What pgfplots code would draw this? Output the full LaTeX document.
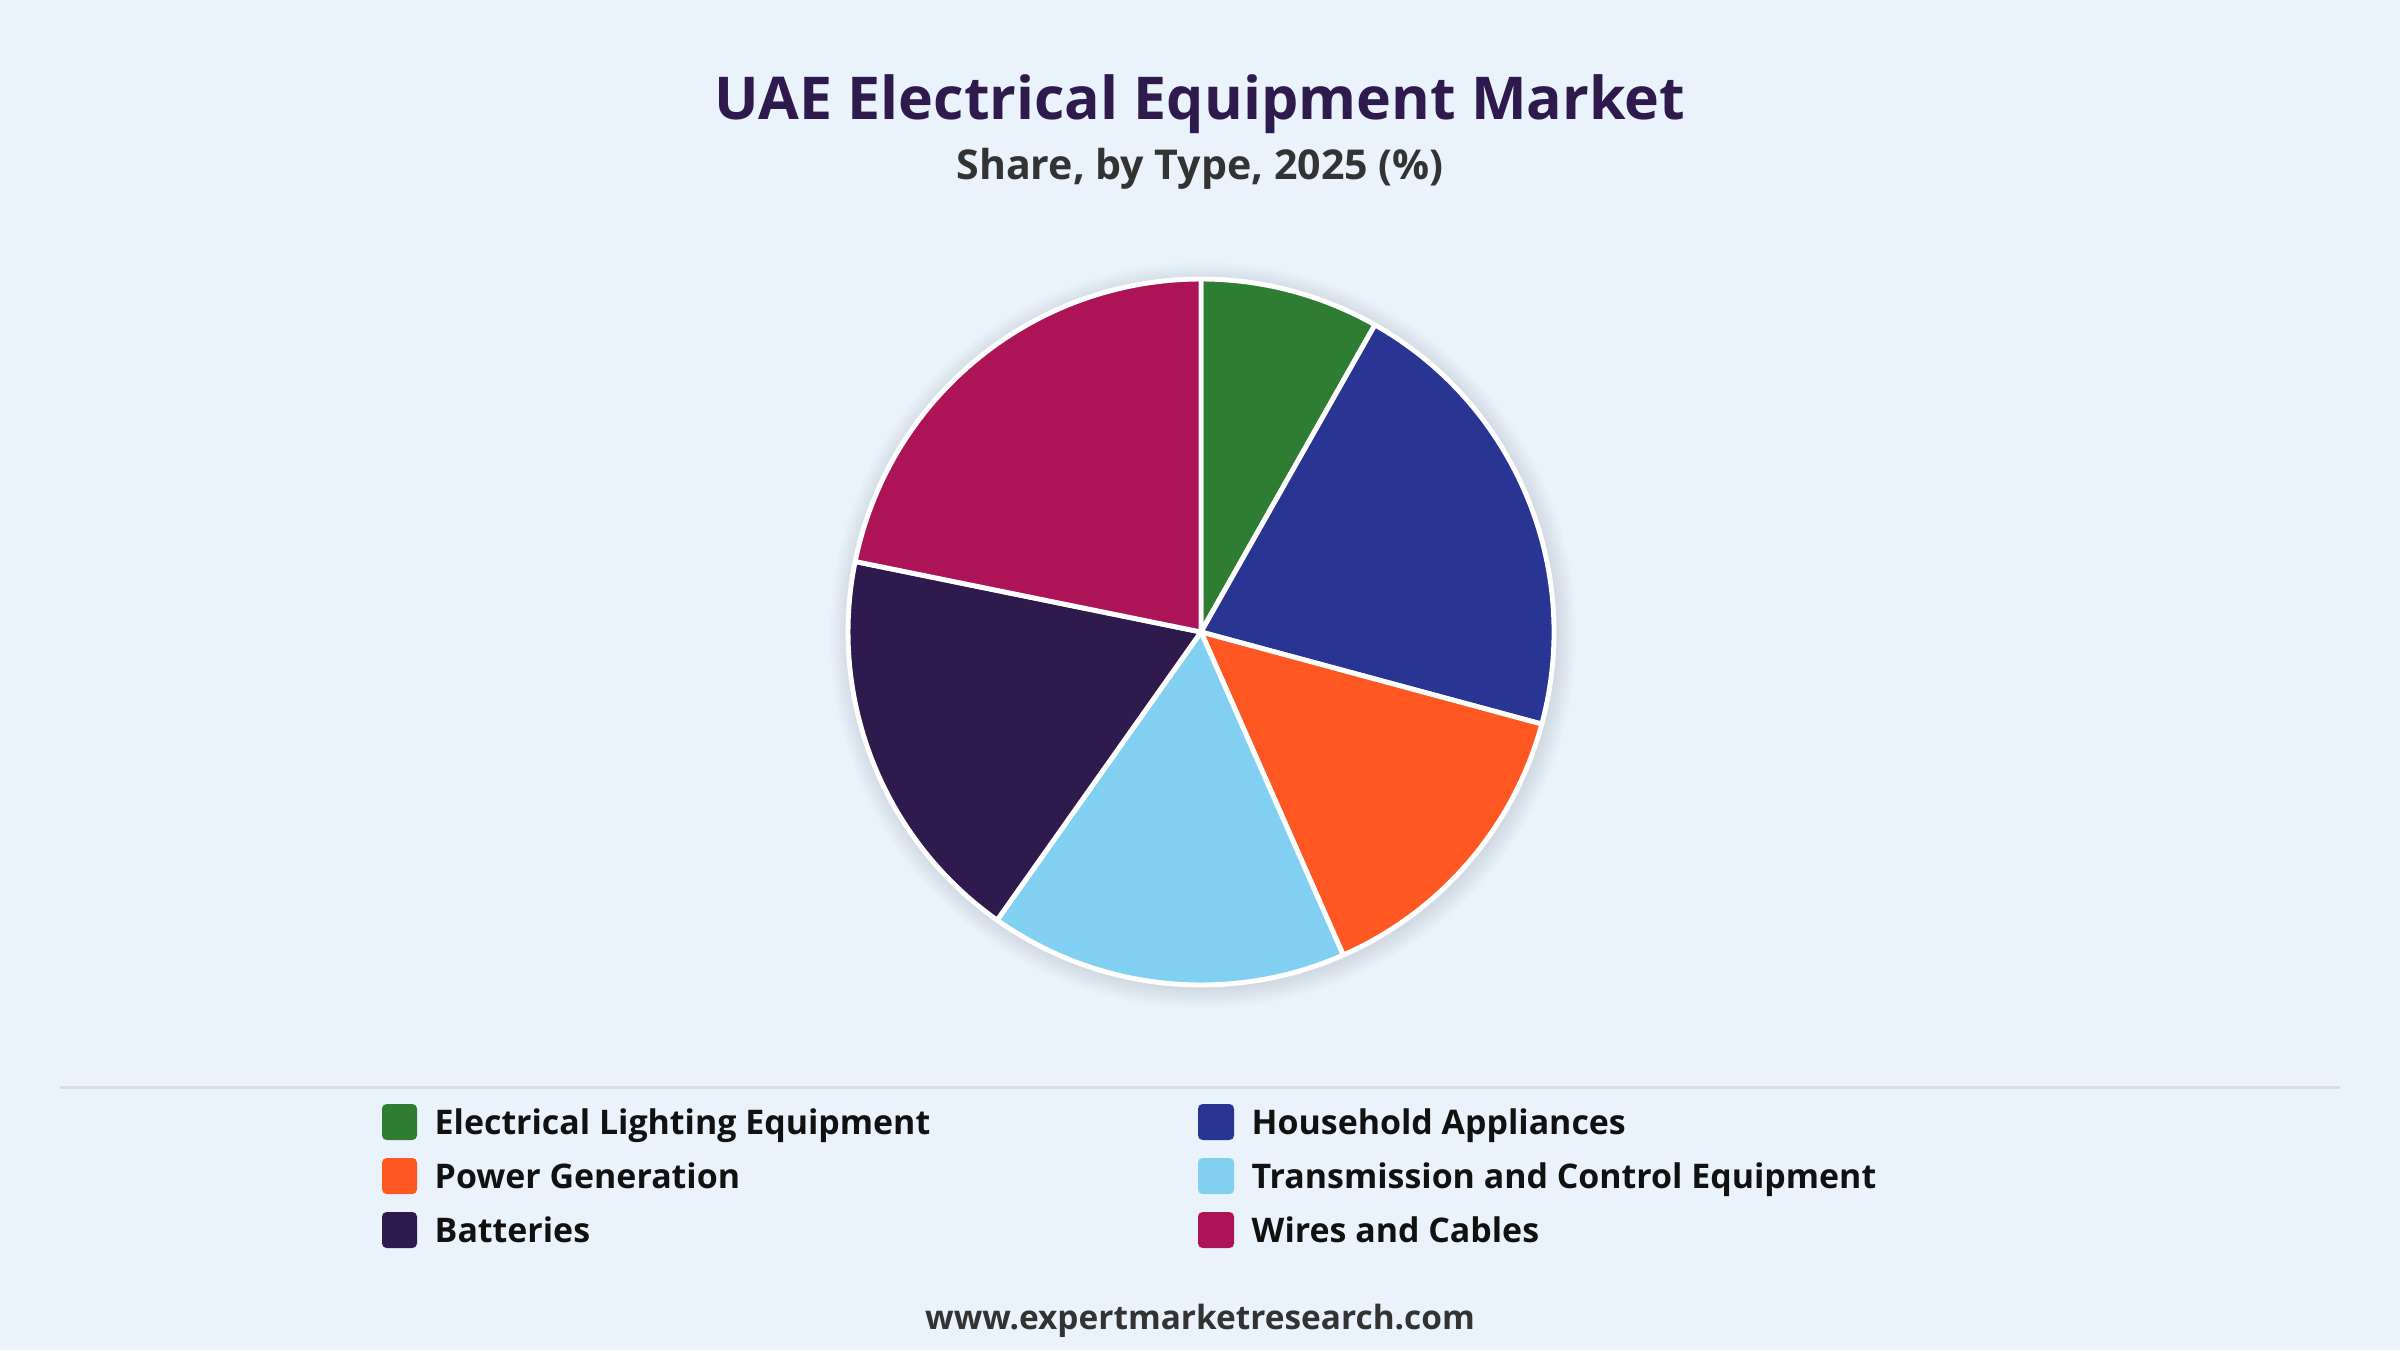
\documentclass[border=0pt]{standalone}
\usepackage{pgfplots}
\usepackage{pgfplotstable}
\pgfplotsset{compat=1.18}
\usepackage{fontspec}
\setmainfont{Open Sans}

\definecolor{bgc}{RGB}{234,242,251}
\definecolor{titlec}{RGB}{46,26,77}
\definecolor{subc}{RGB}{51,51,51}
\definecolor{txtc}{RGB}{17,17,17}
\definecolor{sepc}{RGB}{218,220,224}
\definecolor{cLight}{RGB}{46,125,50}
\definecolor{cHouse}{RGB}{40,53,147}
\definecolor{cPower}{RGB}{255,87,34}
\definecolor{cTrans}{RGB}{129,207,241}
\definecolor{cBatt}{RGB}{46,26,77}
\definecolor{cWire}{RGB}{173,20,87}

% share by type, percent, clockwise from 12 o'clock
\pgfplotstableread{
type  value colour
Light 8.2   cLight
House 21.0  cHouse
Power 14.2  cPower
Trans 16.4  cTrans
Batt  18.4  cBatt
Wire  21.8  cWire
}\piedata

\begin{document}
\begin{tikzpicture}
\fill[bgc] (0,0) rectangle (24,13.5);

% titles
\node[anchor=base, text=titlec, font=\fontsize{16.8}{20}\selectfont\bfseries] at (12.0,12.30) {UAE Electrical Equipment Market};
\node[anchor=base, text=subc, font=\fontsize{11.7}{14}\selectfont\bfseries] at (12.0,11.70) {Share, by Type, 2025 (\%)};

% soft shadow behind pie
\foreach \k in {1,...,8}
  \fill[black, opacity=0.012] (12.03,7.15) circle[radius=3.53cm+\k*0.025cm];

\begin{axis}[
  at={(12.01cm,7.18cm)}, anchor=origin,
  x=3.53cm, y=3.53cm,
  xmin=-1.1, xmax=1.1, ymin=-1.1, ymax=1.1,
  hide axis, clip=false,
]
\def\cum{0}
\pgfplotsforeachungrouped \i in {0,...,5}{%
  \pgfplotstablegetelem{\i}{value}\of\piedata \let\v\pgfplotsretval
  \pgfplotstablegetelem{\i}{colour}\of\piedata \let\c\pgfplotsretval
  \pgfmathsetmacro\a{90-3.6*\cum}%
  \pgfmathsetmacro\b{90-3.6*(\cum+\v)}%
  \edef\temp{\noexpand\fill[\c, draw=white, line width=1.4pt, line join=round]
    (axis cs:0,0) -- (axis cs:{cos(\a)},{sin(\a)})
    arc[start angle=\a, end angle=\b, radius=3.53cm] -- cycle;}%
  \temp
  \pgfmathsetmacro\cum{\cum+\v}%
}
\end{axis}

% separator
\draw[sepc, line width=0.3mm] (0.6,2.63) -- (23.4,2.63);

% legend
\tikzset{sw/.style={fill=#1, rounded corners=1.3pt}, lt/.style={anchor=base west, text=txtc, font=\fontsize{9.65}{12}\selectfont\bfseries, inner sep=0pt}}
\fill[sw=cLight] (3.82,2.10) rectangle (4.17,2.46);
\node[lt] at (4.34,2.16) {Electrical Lighting Equipment};
\fill[sw=cPower] (3.82,1.56) rectangle (4.17,1.92);
\node[lt] at (4.34,1.62) {Power Generation};
\fill[sw=cBatt] (3.82,1.02) rectangle (4.17,1.38);
\node[lt] at (4.34,1.08) {Batteries};
\fill[sw=cHouse] (11.98,2.10) rectangle (12.34,2.46);
\node[lt] at (12.51,2.16) {Household Appliances};
\fill[sw=cTrans] (11.98,1.56) rectangle (12.34,1.92);
\node[lt] at (12.51,1.62) {Transmission and Control Equipment};
\fill[sw=cWire] (11.98,1.02) rectangle (12.34,1.38);
\node[lt] at (12.51,1.08) {Wires and Cables};

% footer
\node[anchor=base, text=subc, font=\fontsize{9.5}{12}\selectfont\bfseries] at (12.0,0.21) {www.expertmarketresearch.com};
\end{tikzpicture}
\end{document}
